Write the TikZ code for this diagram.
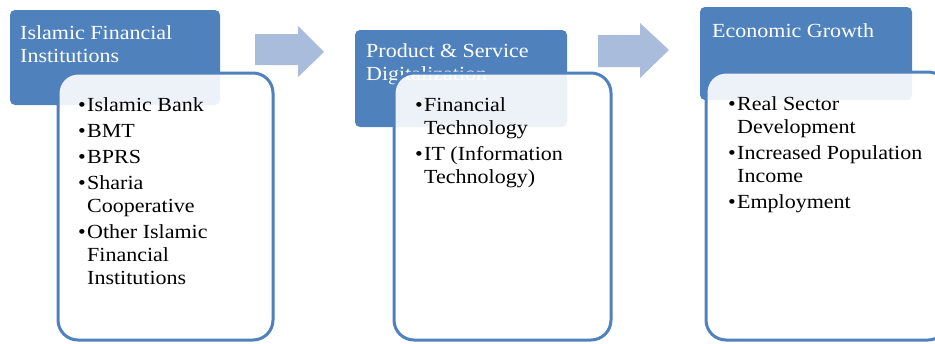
\documentclass[tikz,border=0pt]{standalone}
\usepackage{fontspec}
\setmainfont{Liberation Serif}[FakeStretch=1.1]
\definecolor{hdrblue}{HTML}{4F81BD}
\definecolor{arrblue}{HTML}{A9BCDB}
\newcommand\bitem[1]{\par\hangindent=9pt\hangafter=1\noindent\makebox[9pt][l]{\textbullet}#1}
\tikzset{
  hdr/.style={fill=hdrblue, draw=none, rounded corners=5pt},
  bodybox/.style={fill=white, fill opacity=0.9, draw=hdrblue, draw opacity=1, line width=3pt, rounded corners=20pt},
  hdrtext/.style={anchor=base west, inner sep=0pt, text=white, font=\fontsize{20}{23}\selectfont, align=left},
  bodytext/.style={anchor=base west, inner sep=0pt, text=black, font=\fontsize{20}{23}\selectfont},
  flowarrow/.style={fill=arrblue, draw=none}
}
\begin{document}
\begin{tikzpicture}[x=1pt,y=-1pt]
\useasboundingbox (0,0) rectangle (935,343);
\clip (0,0) rectangle (935,343);
% arrows
\fill[flowarrow] (255,34) -- (298,34) -- (298,26) -- (324,52) -- (298,77) -- (298,65) -- (255,65) -- cycle;
\fill[flowarrow] (598,35) -- (640,35) -- (640,23) -- (669,50) -- (640,78) -- (640,67) -- (598,67) -- cycle;
% column 1
\path[hdr] (10,10) rectangle (220,105);
\node[hdrtext] (h1) at (20,62) {Islamic Financial\\Institutions};
\path[bodybox] (58,73) rectangle (273,340);
\node[bodytext] (b1) at (78,111) {\parbox[t]{200pt}{\fontsize{20}{23}\selectfont\setlength{\parskip}{3pt}%
\bitem{Islamic Bank}
\bitem{BMT}
\bitem{BPRS}
\bitem{Sharia\\Cooperative}
\bitem{Other Islamic\\Financial\\Institutions}}};
% column 2
\path[hdr] (355,30) rectangle (567,127);
\node[hdrtext] (h2) at (366,80) {Product \& Service\\Digitalization};
\path[bodybox] (394,73) rectangle (611,340);
\node[bodytext] (b2) at (415,111) {\parbox[t]{200pt}{\fontsize{20}{23}\selectfont\setlength{\parskip}{3pt}%
\bitem{Financial\\Technology}
\bitem{IT (Information\\Technology)}}};
% column 3
\path[hdr] (700,7) rectangle (912,100);
\node[hdrtext] (h3) at (712,37) {Economic Growth};
\path[bodybox] (706,72) rectangle (948,340);
\node[bodytext] (b3) at (728,110) {\parbox[t]{200pt}{\fontsize{20}{23}\selectfont\setlength{\parskip}{3pt}%
\bitem{Real Sector\\Development}
\bitem{Increased Population\\Income}
\bitem{Employment}}};
\end{tikzpicture}
\end{document}
